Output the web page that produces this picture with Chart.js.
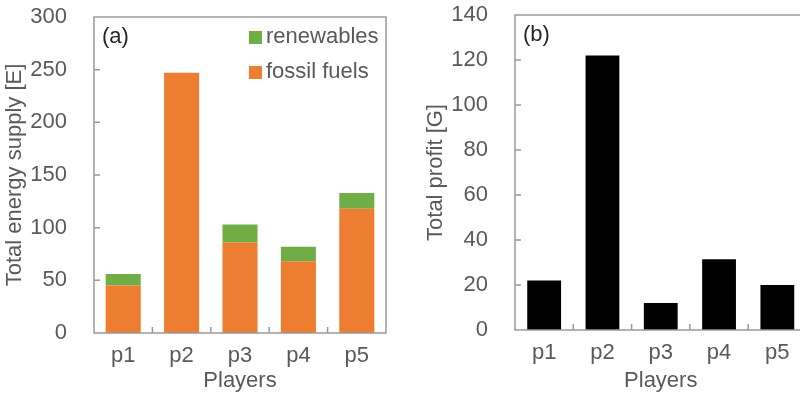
<!DOCTYPE html>
<html>
<head>
<meta charset="utf-8">
<script src="https://cdn.jsdelivr.net/npm/chart.js@4.4.1/dist/chart.umd.min.js"></script>
<style>
  html, body { margin: 0; padding: 0; width: 800px; height: 395px; overflow: hidden; background: #fff; }
  #boxA { position: absolute; left: 0; top: 0; }
  #boxB { position: absolute; left: 421px; top: 0; }
</style>
</head>
<body>
<canvas id="boxA" width="400" height="395"></canvas>
<canvas id="boxB" width="400" height="395"></canvas>
<script>
// data
const players = ["p1", "p2", "p3", "p4", "p5"];
const fossilFuels = [45, 247, 86, 68, 118];
const renewables = [11, 0, 17, 14, 15];
const profit = [22, 122, 12, 31.5, 20];
const supplyTicks = [0, 50, 100, 150, 200, 250, 300];
const profitTicks = [0, 20, 40, 60, 80, 100, 120, 140];

const FONT = "'Liberation Sans', Arial, sans-serif";
const GREY_TXT = "#595959";
const FRAME = "#9a9a9a";

// box around plot + inward tick marks, the "(a)" tag and the inset legend
const panelPlugin = {
  id: "panel",
  afterDatasetsDraw(chart, args, opts) {
    const { ctx, chartArea: a } = chart;
    const x = chart.scales.x, y = chart.scales.y;
    ctx.save();
    ctx.strokeStyle = FRAME;
    ctx.lineWidth = 1.5;
    ctx.strokeRect(a.left, a.top, a.right - a.left, a.bottom - a.top);

    ctx.beginPath();
    for (let i = 1; i < players.length; i++) {
      const px = (x.getPixelForValue(i - 1) + x.getPixelForValue(i)) / 2;
      ctx.moveTo(px, a.bottom);
      ctx.lineTo(px, a.bottom - 6);
    }
    y.ticks.forEach(t => {
      if (t.value === y.min || t.value === y.max) return;
      const py = y.getPixelForValue(t.value);
      ctx.moveTo(a.left, py);
      ctx.lineTo(a.left + 6, py);
    });
    ctx.stroke();

    ctx.fillStyle = "#262626";
    ctx.font = "22px " + FONT;
    ctx.textBaseline = "middle";
    ctx.textAlign = "left";
    ctx.fillText(opts.tag, a.left + 8, a.top + 20);

    if (opts.legend) {
      const items = chart.data.datasets.slice().reverse();
      items.forEach((ds, i) => {
        const cy = a.top + 20 + i * 35;
        ctx.fillStyle = ds.backgroundColor;
        ctx.fillRect(a.right - 137, cy - 6, 13, 13);
        ctx.fillStyle = GREY_TXT;
        ctx.fillText(ds.label, a.right - 120, cy);
      });
    }
    ctx.restore();
  }
};

function axes(yMax, step, yTitle, bottomH) {
  return {
    x: {
      stacked: true,
      grid: { display: false, drawTicks: false },
      border: { display: false },
      ticks: { color: GREY_TXT, font: { family: FONT, size: 22 }, padding: 10 },
      title: { display: true, text: "Players", color: GREY_TXT,
               font: { family: FONT, size: 22 }, padding: { top: 0, bottom: 1 } },
      afterFit: s => { s.height = bottomH; }
    },
    y: {
      stacked: true,
      min: 0, max: yMax,
      grid: { display: false, drawTicks: false },
      border: { display: false },
      ticks: { stepSize: step, color: GREY_TXT, font: { family: FONT, size: 22 }, padding: 27 },
      title: { display: true, text: yTitle, color: GREY_TXT,
               font: { family: FONT, size: 22 }, padding: { top: 2, bottom: 0 } },
      afterFit: s => { s.width = 94; s.paddingTop = 0; s.paddingBottom = 0; }
    }
  };
}

new Chart(document.getElementById("boxA"), {
  type: "bar",
  data: {
    labels: players,
    datasets: [
      { label: "fossil fuels", data: fossilFuels, backgroundColor: "#ed7d31",
        categoryPercentage: 1, barPercentage: 0.6 },
      { label: "renewables", data: renewables, backgroundColor: "#70ad47",
        categoryPercentage: 1, barPercentage: 0.6 }
    ]
  },
  options: {
    responsive: false,
    animation: false,
    devicePixelRatio: 1,
    layout: { padding: { left: 0, top: 17, right: 14, bottom: 0 } },
    scales: axes(supplyTicks[supplyTicks.length - 1], supplyTicks[1], "Total energy supply [E]", 62),
    plugins: {
      legend: { display: false },
      tooltip: { enabled: false },
      panel: { tag: "(a)", legend: true }
    }
  },
  plugins: [panelPlugin]
});

new Chart(document.getElementById("boxB"), {
  type: "bar",
  data: {
    labels: players,
    datasets: [
      { label: "profit", data: profit, backgroundColor: "#000000",
        categoryPercentage: 1, barPercentage: 0.58 }
    ]
  },
  options: {
    responsive: false,
    animation: false,
    devicePixelRatio: 1,
    layout: { padding: { left: 0, top: 15, right: 14.5, bottom: 0 } },
    scales: axes(profitTicks[profitTicks.length - 1], profitTicks[1], "Total profit [G]", 65),
    plugins: {
      legend: { display: false },
      tooltip: { enabled: false },
      panel: { tag: "(b)", legend: false }
    }
  },
  plugins: [panelPlugin]
});
</script>
</body>
</html>
